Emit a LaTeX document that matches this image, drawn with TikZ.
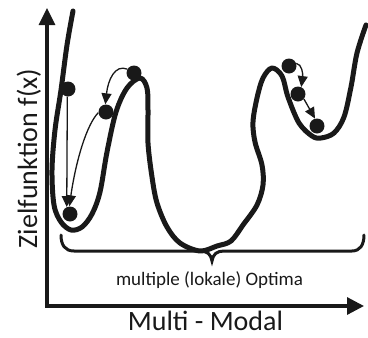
\documentclass[tikz,border=0pt]{standalone}
\usepackage{fontspec}
\setmainfont{Carlito}
\usetikzlibrary{arrows.meta}

\tikzset{
  fcurve/.style={line width=5bp, line cap=round, line join=round},
  bracestyle/.style={line width=3bp, line cap=round},
  ball/.style={circle, fill=black!90, inner sep=0pt, minimum size=15bp},
  moveto/.style={line width=1.3bp, -{Triangle[length=11bp,width=10bp]}},
  bigtext/.style={font=\fontsize{28bp}{32bp}\selectfont},
  smalltext/.style={font=\fontsize{19bp}{22bp}\selectfont},
}

\begin{document}
\begin{tikzpicture}[x=1bp,y=-1bp, color=black!90]
\useasboundingbox (0,0) rectangle (368,338);

% axes
\coordinate (ytip) at (47,8);
\coordinate (orig) at (47,306);
\coordinate (xtip) at (364,306);
\draw[line width=3.2bp, {Triangle[length=17bp,width=16bp]}-{Triangle[length=17bp,width=17bp]}, line join=miter]
  (ytip) -- (orig) -- (xtip);

% objective function with several local optima
\draw[fcurve] plot[smooth, tension=0.55] coordinates {
  (73,11) (67,45) (61,90) (55,130) (52,170) (54,205) (61,222) (71,230)
  (82,227) (92,214) (100,192) (107,152) (116,112) (127,88) (140,78)
  (147,88) (148,110) (148,143) (152,177) (157,203) (167,227) (180,243)
  (200,251) (217,246) (231,241) (243,225) (257,205) (263,185) (262,165)
  (255,142) (253,122) (257,98) (263,78) (272,68) (282,76) (288,97)
  (299,123) (312,136) (321,138) (334,133) (344,117) (351,87) (357,53)
  (366,25)};

% brace under the minima
\draw[bracestyle] (61,235) .. controls (61,245) and (65,251) .. (74,251)
  -- (200,251) .. controls (207,251) and (211,254) .. (212,261)
  .. controls (213,254) and (217,251) .. (224,251)
  -- (352,251) .. controls (360,251) and (364,245) .. (364,235);

% balls
\node[ball] (A) at (68,89) {};
\node[ball] (B) at (134,73) {};
\node[ball] (C) at (106,112) {};
\node[ball] (D) at (70,214) {};
\node[ball] (E) at (289,66) {};
\node[ball] (F) at (298,94) {};
\node[ball] (G) at (317,126) {};

% descent steps
\draw[moveto] (A.-95) -- (D.115);
\draw[moveto] (C.185) .. controls (87,124) and (76,160) .. (D.95);
\draw[moveto] (B.150) .. controls (115,64) and (108,80) .. (C.95);
\draw[moveto] (E.20) .. controls (302,64) and (303,74) .. (F.65);
\draw[moveto] (F.-40) -- (G.105);

% labels
\node[bigtext, rotate=90, anchor=base] (ylab) at (37,158.5) {Zielfunktion f(x)};
\node[bigtext, anchor=base] (xlab) at (205.5,330) {Multi - Modal};
\node[smalltext, anchor=base] (blab) at (209.5,285) {multiple (lokale) Optima};
\end{tikzpicture}
\end{document}
